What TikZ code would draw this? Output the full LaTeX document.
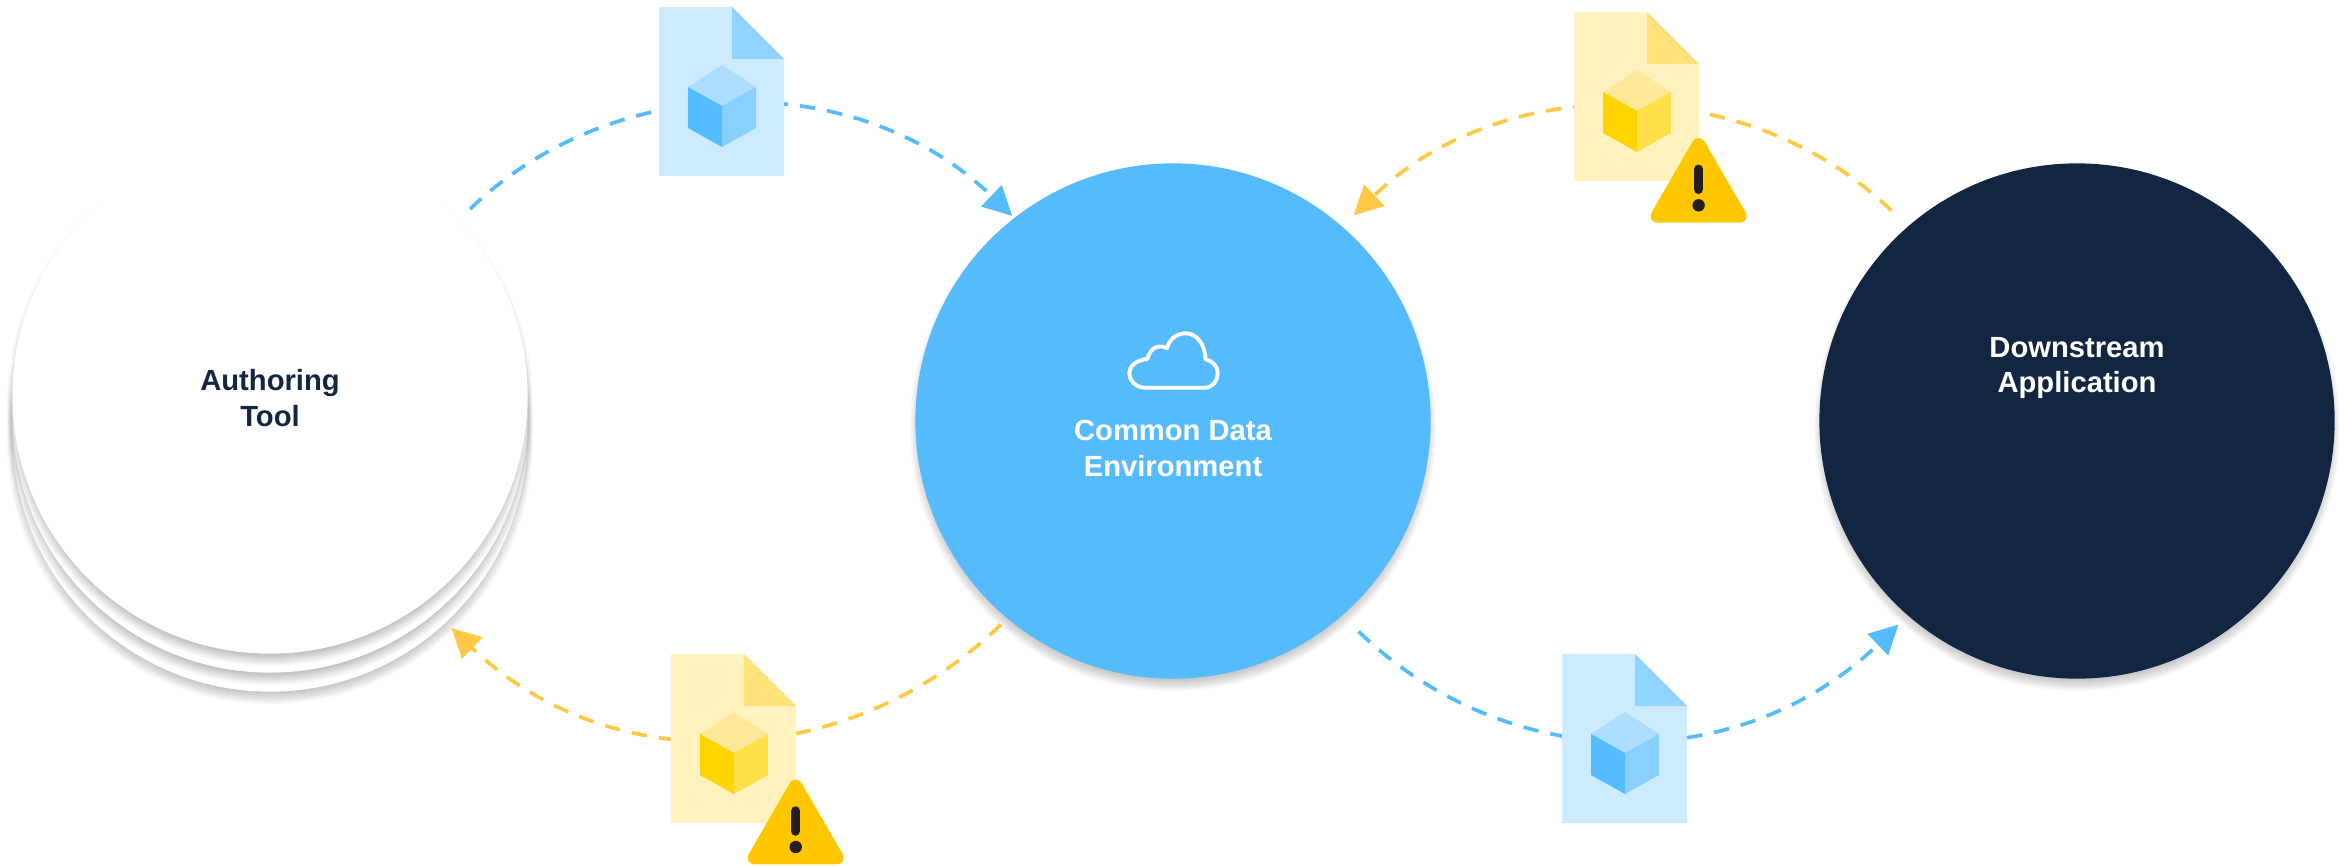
\documentclass[tikz,border=0pt]{standalone}
\usepackage{fontspec}
\setmainfont{Liberation Sans}
\usetikzlibrary{arrows.meta}
\definecolor{cdeblue}{RGB}{85, 187, 251}
\definecolor{appnavy}{RGB}{19, 38, 65}
\definecolor{flowyellow}{RGB}{255, 200, 69}
\definecolor{warnyellow}{RGB}{255, 199, 0}
\definecolor{warnmark}{RGB}{35, 31, 32}
\definecolor{docblue}{RGB}{204, 235, 255}
\definecolor{foldblue}{RGB}{144, 212, 255}
\definecolor{topblue}{RGB}{173, 222, 255}
\definecolor{leftblue}{RGB}{85, 189, 255}
\definecolor{rightblue}{RGB}{135, 208, 255}
\definecolor{docyellow}{RGB}{255, 242, 191}
\definecolor{foldyellow}{RGB}{255, 225, 124}
\definecolor{topyellow}{RGB}{254, 233, 154}
\definecolor{leftyellow}{RGB}{255, 212, 0}
\definecolor{rightyellow}{RGB}{255, 223, 74}
\newcommand{\softshadow}[2]{
  \foreach \n in {-7,...,5}
    \fill[black, opacity=0.02] (#1,#2+7) circle ({2.58cm+\n*0.01cm});
}
\tikzset{
  disc/.style={circle, inner sep=0pt, outer sep=0pt, minimum size=5.15cm},
  caption/.style={align=center, font=\fontsize{8.3}{10.2}\selectfont\bfseries},
  flow/.style={
    line width=1.05pt,
    dash pattern=on 0.155cm off 0.12cm,
    -{Triangle[length=0.29cm,width=0.29cm]},
  },
  pics/modelfile/.style={code={
    \fill[doc#1] (0,0) -- (73,0) -- (125,52) -- (125,169) -- (0,169) -- cycle;
    \fill[fold#1] (73,0) -- (125,52) -- (73,52) -- cycle;
    \fill[top#1] (63,58) -- (97,80) -- (63,99) -- (29,80) -- cycle;
    \fill[left#1] (29,80) -- (63,99) -- (63,140) -- (29,121) -- cycle;
    \fill[right#1] (97,80) -- (63,99) -- (63,140) -- (97,121) -- cycle;
  }},
  pics/warning/.style={code={
    \fill[warnyellow, rounded corners=0.13cm] (0,-7) -- (53,84.4) -- (-53,84.4) -- cycle;
    \draw[warnmark, line width=2.7pt, line cap=round] (0,31) -- (0,51);
    \fill[warnmark] (0,67) circle (0.062cm);
  }},
}

\begin{document}
\begin{tikzpicture}[x=0.01cm, y=-0.01cm]
  \useasboundingbox (0,0) rectangle (2346,867);

  % Circles
  \softshadow{270}{434}
  \node[disc, fill=white] (authorc) at (270,434) {};
  \softshadow{270}{415}
  \node[disc, fill=white] (authorb) at (270,415) {};
  \softshadow{270}{396}
  \node[disc, fill=white] (authora) at (270,396) {};
  \softshadow{1173}{421}
  \node[disc, fill=cdeblue] (cde) at (1173,421) {};
  \softshadow{2077}{421}
  \node[disc, fill=appnavy] (app) at (2077,421) {};

  % Labels
  \node[caption, text=appnavy, yshift=-0.02cm] (authorlabel) at (authora) {Authoring\\Tool};
  \node[caption, text=white, yshift=-0.27cm] (cdelabel) at (cde) {Common Data\\Environment};
  \node[caption, text=white, yshift=0.53cm] (applabel) at (app) {Downstream\\Application};

  % Cloud
  \draw[white, line width=1.1pt, line join=round] (1145,387.7) -- (1205,387.7)
    .. controls (1212.5,387.7) and (1217.7,381) .. (1217.7,372.7)
    .. controls (1217.7,366) and (1212,361) .. (1205.3,359)
    .. controls (1205.3,345) and (1197,333.3) .. (1185.7,333.3)
    .. controls (1176,333.3) and (1169,340) .. (1167,348.3)
    .. controls (1160,344) and (1150,347) .. (1147.3,359)
    .. controls (1137,360) and (1129.3,365.5) .. (1129.3,372.7)
    .. controls (1129.3,381) and (1136.5,387.7) .. (1145,387.7) -- cycle;

  % Flows, drawn before the files so that these hide them
  \draw[flow, cdeblue, shorten <=0.16cm, shorten >=0.03cm]
    (authora.43) to[out=44, in=136, distance=2.17cm] (cde.128);
  \draw[flow, flowyellow, shorten <=0.23cm, shorten >=0.16cm]
    (app.131) to[out=136, in=44, distance=2.23cm] (cde.49);
  \draw[flow, flowyellow, shorten <=0.09cm, shorten >=0.08cm]
    (cde.230) to[out=224, in=-44, distance=2.25cm] (authorc.-47);
  \draw[flow, cdeblue, shorten <=0.23cm, shorten >=0.13cm]
    (cde.-49) to[out=-44, in=224, distance=2.32cm] (app.229);

  % Files
  \pic at (659,7) {modelfile=blue};
  \pic at (1574,12) {modelfile=yellow};
  \pic at (671,654) {modelfile=yellow};
  \pic at (1562,654) {modelfile=blue};
  \pic at (1698.6,138.3) {warning};
  \pic at (795.7,780) {warning};
\end{tikzpicture}
\end{document}
